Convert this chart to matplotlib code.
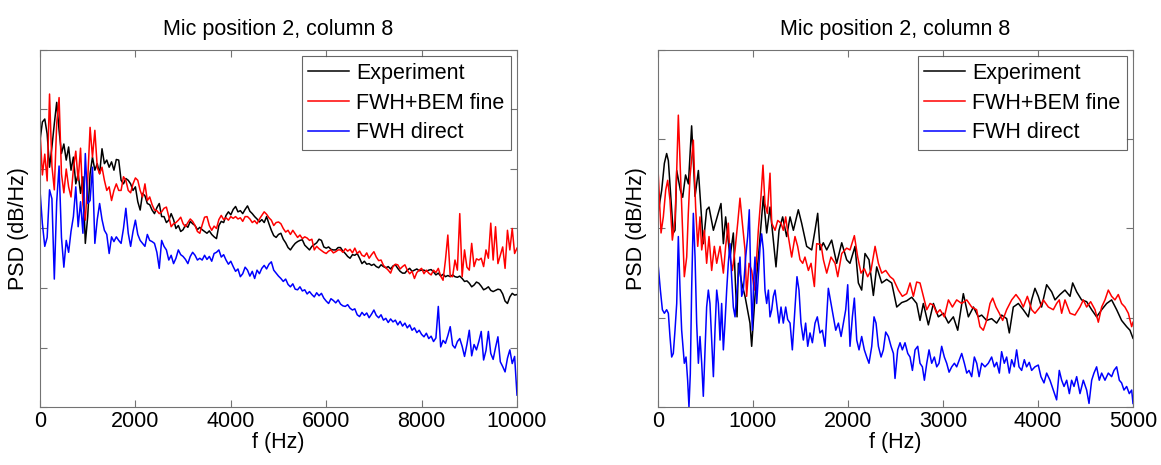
import numpy as np
import matplotlib
matplotlib.use('Agg')
import matplotlib.pyplot as plt

plt.rcParams['font.family'] = ['Liberation Sans', 'DejaVu Sans']

# ---- left panel: 0-10 kHz, 50 Hz bins ----
f_left = np.arange(0, 10001, 50)

exp_left = [
    54.8, 57.9, 58.4, 55.9, 50.3, 53.7, 57.6, 61.2, 56.5, 52.6, 54.2, 51.5, 53.7, 49.8, 52.0, 47.5, 49.2, 45.9, 48.7, 37.5,
    42.0, 49.2, 52.0, 49.8, 50.9, 49.2, 53.4, 50.9, 51.5, 50.3, 51.2, 49.8, 51.6, 51.5, 48.1, 47.5, 48.4, 48.1, 47.5, 46.4,
    47.0, 44.5, 43.1, 45.9, 45.5, 44.2, 44.0, 43.1, 42.5, 43.5, 44.2, 42.0, 42.0, 41.0, 41.4, 42.5, 41.5, 40.0, 40.5, 39.5,
    39.8, 40.6, 40.2, 41.2, 40.8, 40.5, 39.8, 40.2, 39.8, 39.5, 39.2, 39.6, 39.0, 38.6, 38.3, 40.5, 41.2, 41.0, 42.2, 42.8,
    42.3, 43.2, 43.7, 42.8, 43.0, 42.5, 43.2, 43.8, 42.9, 42.5, 42.0, 41.6, 41.1, 41.5, 41.0, 42.0, 40.8, 39.7, 38.8, 38.5,
    39.0, 39.2, 38.2, 37.6, 36.8, 36.4, 37.0, 37.5, 37.8, 38.0, 38.1, 37.2, 36.8, 36.4, 37.0, 37.3, 37.6, 38.2, 38.0, 36.9,
    36.7, 36.9, 36.5, 36.4, 36.4, 36.8, 36.8, 36.2, 35.8, 35.3, 35.0, 35.6, 35.5, 35.8, 35.0, 34.1, 34.5, 34.0, 34.1, 33.8,
    34.0, 33.6, 33.4, 33.9, 33.6, 33.4, 33.6, 33.2, 33.7, 33.9, 33.3, 32.8, 32.5, 32.5, 33.0, 33.3, 32.8, 33.0, 33.2, 32.9,
    33.0, 33.0, 32.8, 33.0, 33.1, 32.7, 32.2, 32.5, 32.0, 32.3, 31.9, 32.1, 31.9, 32.2, 31.9, 31.8, 32.0, 31.6, 31.1, 31.2,
    30.8, 30.2, 30.5, 31.0, 30.8, 30.3, 29.7, 29.9, 30.2, 29.6, 29.4, 29.6, 29.8, 29.7, 29.0, 27.8, 27.4, 28.5, 29.1, 28.8,
    28.9]

bem_left = [
    56.5, 49.0, 52.5, 48.0, 62.6, 50.5, 46.5, 57.6, 62.0, 49.2, 46.0, 50.0, 47.0, 45.3, 50.0, 53.0, 48.1, 53.5, 44.0, 41.4,
    48.1, 57.0, 52.0, 56.5, 50.3, 49.2, 50.3, 48.1, 46.4, 47.0, 44.7, 46.4, 47.5, 46.4, 46.4, 48.7, 48.1, 46.4, 46.0, 47.5,
    48.5, 48.1, 46.4, 45.3, 47.5, 44.7, 45.3, 44.0, 43.1, 43.0, 42.5, 42.8, 43.4, 43.6, 42.0, 40.3, 40.8, 41.0, 41.4, 41.9,
    40.8, 40.3, 41.0, 41.6, 41.2, 40.5, 39.5, 39.2, 40.6, 41.9, 42.0, 40.5, 39.7, 40.4, 40.0, 41.5, 42.2, 41.5, 41.8, 41.4,
    42.0, 41.7, 42.0, 41.6, 41.8, 41.2, 42.0, 42.0, 41.6, 41.0, 41.3, 40.8, 41.6, 42.2, 42.8, 42.4, 41.8, 41.4, 40.5, 41.0,
    41.1, 40.8, 40.0, 39.4, 39.7, 39.0, 39.7, 39.1, 38.5, 38.9, 38.3, 38.6, 38.4, 38.0, 38.2, 36.4, 37.0, 36.6, 36.3, 36.0,
    35.8, 36.2, 36.4, 35.9, 36.1, 36.4, 36.4, 36.0, 36.6, 36.2, 36.5, 35.9, 36.7, 35.8, 36.2, 35.5, 35.3, 35.9, 35.0, 35.6,
    36.1, 35.2, 34.6, 34.7, 33.8, 33.4, 33.0, 32.5, 33.6, 34.0, 33.9, 33.2, 33.6, 33.9, 33.0, 32.4, 32.8, 31.6, 32.6, 33.0,
    33.3, 32.4, 33.0, 32.5, 32.2, 33.0, 32.6, 33.3, 32.0, 31.3, 34.7, 38.9, 32.0, 31.9, 34.7, 33.0, 42.5, 31.9, 36.4, 33.5,
    33.0, 37.5, 33.6, 34.9, 34.7, 35.0, 33.6, 36.4, 35.0, 40.9, 34.7, 40.3, 34.1, 35.5, 36.9, 33.3, 39.7, 36.4, 40.0, 35.8,
    36.7]

direct_left = [
    46.4, 40.8, 37.0, 38.5, 46.5, 45.0, 31.5, 44.5, 50.5, 38.5, 33.5, 38.0, 36.0, 39.5, 42.0, 47.0, 40.3, 44.5, 39.2, 52.6,
    44.2, 44.7, 50.3, 37.5, 41.5, 44.2, 41.5, 39.7, 39.0, 35.8, 38.6, 37.8, 38.6, 38.0, 37.5, 40.0, 43.4, 39.2, 37.0, 39.5,
    41.4, 39.0, 38.0, 37.5, 37.0, 39.0, 38.0, 37.8, 37.5, 36.0, 33.3, 38.0, 37.0, 36.4, 34.7, 35.5, 34.1, 35.0, 36.4, 35.6,
    35.3, 34.8, 34.1, 35.3, 36.0, 35.5, 34.7, 35.0, 34.7, 35.5, 34.8, 35.3, 34.5, 35.8, 36.0, 36.4, 35.2, 35.6, 34.7, 34.0,
    34.5, 33.6, 32.8, 33.2, 31.9, 32.4, 33.5, 33.0, 32.0, 32.8, 31.6, 33.0, 32.4, 33.3, 33.8, 33.2, 34.0, 34.4, 33.0, 32.5,
    32.0, 31.6, 31.1, 31.5, 30.6, 30.2, 30.7, 29.8, 29.7, 30.2, 29.5, 29.7, 29.0, 29.4, 28.9, 28.5, 29.2, 28.7, 29.1, 28.3,
    27.8, 27.4, 28.2, 27.9, 27.5, 28.0, 27.3, 27.0, 26.9, 27.2, 26.6, 26.3, 26.5, 25.5, 25.2, 25.9, 25.4, 25.8, 25.0, 25.6,
    26.3, 25.4, 25.0, 25.5, 24.6, 24.9, 24.2, 24.8, 24.3, 24.6, 23.8, 24.4, 23.6, 24.1, 23.3, 23.8, 22.9, 23.3, 22.5, 22.9,
    22.2, 21.8, 22.4, 21.5, 21.9, 21.0, 21.6, 26.9, 20.1, 21.2, 20.7, 22.0, 23.5, 20.4, 19.9, 21.0, 21.5, 20.2, 18.5, 20.5,
    22.9, 18.6, 20.5, 19.6, 21.0, 22.7, 17.9, 19.5, 22.7, 19.0, 18.0, 20.0, 21.8, 17.6, 16.8, 15.9, 18.2, 19.6, 17.3, 18.5,
    12.0]

# ---- right panel: 0-5 kHz ----
f_exp_r = [0, 39, 67, 91, 109, 137, 161, 179, 197, 235, 260, 290, 320, 354, 390, 425, 477, 512, 537, 583,
           663, 688, 712, 758, 793, 818, 832, 846, 881, 916, 968, 986, 1021, 1063, 1109, 1144, 1179, 1214, 1242, 1274,
           1312, 1354, 1390, 1425, 1477, 1512, 1565, 1618, 1653, 1681, 1706, 1740, 1776, 1828, 1881, 1934, 1986, 2021, 2074, 2109,
           2144, 2179, 2221, 2267, 2302, 2355, 2407, 2460, 2513, 2565, 2618, 2671, 2723, 2758, 2793, 2846, 2899, 2951, 3004, 3057,
           3109, 3155, 3214, 3267, 3320, 3372, 3407, 3459, 3512, 3565, 3617, 3670, 3698, 3740, 3793, 3845, 3898, 3933, 3968, 4003,
           4038, 4091, 4144, 4179, 4231, 4284, 4337, 4365, 4407, 4459, 4512, 4565, 4617, 4670, 4723, 4775, 4828, 4880, 4933, 4968,
           5000]
exp_right = [41.7, 44.3, 47.3, 48.4, 47.6, 43.2, 39.5, 39.8, 46.5, 44.3, 43.5, 46.0, 45.0, 51.5, 43.6, 46.5, 38.3, 42.1, 42.4, 39.8,
             42.8, 38.3, 41.3, 36.8, 39.5, 33.1, 30.1, 36.1, 33.9, 32.4, 29.4, 26.8, 32.4, 37.6, 43.6, 39.5, 42.4, 38.7, 35.7, 39.8,
             41.3, 39.1, 41.3, 39.8, 42.1, 40.6, 38.0, 37.6, 39.8, 41.7, 37.6, 38.4, 37.6, 38.7, 36.1, 38.4, 36.5, 36.1, 38.0, 33.9,
             33.1, 37.2, 36.5, 32.5, 35.7, 33.9, 34.3, 33.9, 31.2, 31.7, 31.9, 32.3, 31.6, 29.7, 31.6, 29.2, 31.6, 30.1, 30.5, 29.4,
             30.1, 28.6, 32.7, 30.1, 31.2, 30.1, 30.3, 29.7, 29.9, 29.4, 30.3, 29.9, 28.3, 31.2, 31.6, 30.9, 30.1, 32.0, 33.3, 32.4,
             31.2, 33.7, 32.9, 32.0, 32.6, 33.1, 32.4, 33.9, 32.9, 32.0, 31.8, 30.9, 30.1, 30.9, 31.6, 32.0, 30.9, 29.7, 29.0, 28.6,
             27.7]

f_bem_r = [0, 32, 56, 81, 102, 126, 151, 179, 197, 214, 235, 256, 277, 302, 319, 337, 372, 396, 418, 442,
           460, 488, 512, 537, 565, 593, 618, 653, 688, 712, 740, 758, 783, 811, 839, 863, 888, 916, 933, 958,
           986, 1014, 1039, 1056, 1084, 1105, 1126, 1151, 1179, 1197, 1232, 1260, 1295, 1319, 1344, 1372, 1407, 1442, 1470, 1495,
           1523, 1547, 1583, 1611, 1646, 1670, 1716, 1741, 1776, 1821, 1864, 1892, 1934, 1986, 2021, 2067, 2102, 2137, 2172, 2207,
           2242, 2285, 2320, 2355, 2397, 2443, 2478, 2530, 2572, 2618, 2653, 2688, 2723, 2758, 2793, 2829, 2864, 2899, 2934, 2969,
           3014, 3057, 3099, 3144, 3197, 3250, 3302, 3354, 3389, 3424, 3459, 3495, 3523, 3558, 3593, 3628, 3670, 3723, 3768, 3810,
           3845, 3888, 3933, 3968, 4021, 4056, 4109, 4161, 4196, 4224, 4249, 4284, 4337, 4389, 4442, 4477, 4512, 4554, 4600, 4635,
           4670, 4705, 4740, 4775, 4810, 4845, 4880, 4915, 4951, 4986, 5000]
bem_right = [46.7, 39.5, 41.3, 44.3, 45.4, 43.2, 38.7, 40.9, 46.5, 52.7, 46.5, 40.6, 34.6, 36.8, 41.7, 45.8, 49.9, 42.4, 38.0, 41.3,
             37.6, 39.8, 36.1, 39.1, 35.3, 38.0, 36.1, 38.0, 35.0, 38.0, 40.6, 36.8, 35.3, 37.6, 40.6, 43.4, 40.6, 37.6, 32.4, 36.1,
             35.3, 33.1, 36.8, 39.8, 43.6, 47.1, 42.8, 41.7, 46.2, 40.6, 39.8, 40.9, 40.6, 39.8, 41.3, 39.1, 36.8, 39.1, 38.0, 36.5,
             36.1, 36.8, 35.3, 36.1, 33.5, 38.3, 38.2, 36.5, 35.0, 36.8, 36.1, 34.6, 37.2, 37.8, 37.6, 39.2, 36.8, 35.0, 35.5, 34.6,
             35.3, 38.0, 36.1, 35.0, 35.3, 34.6, 34.3, 33.1, 32.4, 32.7, 33.9, 32.4, 34.0, 33.9, 32.4, 30.9, 31.6, 31.4, 30.5, 30.9,
             30.1, 32.0, 31.2, 32.0, 31.6, 32.0, 31.2, 30.9, 29.0, 28.6, 29.7, 31.6, 32.2, 31.2, 30.5, 29.7, 30.9, 32.0, 32.6, 32.0,
             31.2, 32.4, 30.9, 30.5, 31.2, 32.0, 31.2, 30.9, 31.6, 32.0, 30.5, 32.0, 30.5, 30.3, 31.2, 32.0, 31.2, 31.8, 30.9, 29.5,
             31.2, 32.0, 33.1, 32.4, 32.0, 32.6, 31.6, 31.2, 30.5, 29.0, 29.5]

f_dir_r = [0, 25, 46, 67, 91, 109, 126, 144, 161, 179, 197, 214, 232, 249, 277, 295, 312, 326, 340, 354,
           372, 390, 407, 425, 442, 460, 477, 495, 512, 530, 547, 565, 583, 600, 618, 635, 653, 670, 688, 705,
           723, 740, 758, 775, 793, 811, 828, 846, 863, 881, 898, 923, 944, 961, 979, 993, 1007, 1021, 1039, 1056,
           1074, 1091, 1109, 1126, 1144, 1162, 1179, 1197, 1214, 1232, 1249, 1274, 1295, 1319, 1344, 1365, 1390, 1414, 1442, 1463,
           1484, 1505, 1530, 1554, 1576, 1600, 1625, 1653, 1677, 1705, 1730, 1758, 1793, 1821, 1846, 1871, 1899, 1927, 1951, 1976,
           1997, 2021, 2046, 2067, 2092, 2116, 2144, 2172, 2197, 2221, 2250, 2274, 2295, 2320, 2348, 2372, 2397, 2425, 2453, 2478,
           2495, 2523, 2548, 2572, 2600, 2629, 2653, 2678, 2706, 2734, 2758, 2783, 2804, 2829, 2853, 2881, 2909, 2934, 2958, 2986,
           3014, 3039, 3064, 3092, 3120, 3144, 3169, 3197, 3225, 3250, 3274, 3302, 3330, 3355, 3380, 3407, 3442, 3477, 3512, 3540,
           3565, 3593, 3617, 3645, 3670, 3698, 3723, 3750, 3775, 3800, 3828, 3856, 3880, 3908, 3933, 3968, 4003, 4031, 4063, 4091,
           4126, 4161, 4196, 4224, 4249, 4274, 4302, 4330, 4354, 4379, 4407, 4442, 4477, 4512, 4537, 4565, 4589, 4617, 4645, 4670,
           4705, 4740, 4775, 4800, 4828, 4856, 4880, 4905, 4933, 4961, 4986, 5000]
direct_right = [36.1, 33.1, 30.9, 30.5, 30.9, 30.5, 27.9, 25.6, 26.0, 28.6, 31.6, 39.1, 33.1, 28.6, 24.9, 25.6, 23.0, 20.0, 23.7, 33.1,
                41.7, 36.8, 29.4, 24.9, 27.9, 24.9, 21.2, 26.4, 31.2, 33.1, 31.6, 27.5, 23.4, 28.6, 33.1, 31.6, 27.5, 31.6, 26.4, 29.4,
                33.1, 36.1, 38.3, 34.6, 31.2, 30.1, 32.7, 34.6, 36.8, 32.4, 33.1, 36.8, 39.1, 42.1, 33.1, 28.6, 34.2, 36.8, 31.6, 34.6,
                37.9, 39.4, 37.6, 33.1, 31.6, 33.1, 30.1, 30.9, 32.4, 33.1, 31.6, 29.4, 31.2, 29.4, 31.2, 29.8, 29.4, 26.4, 31.2, 34.6,
                33.1, 29.4, 27.5, 29.4, 26.8, 28.3, 27.2, 29.4, 30.1, 28.3, 28.6, 26.8, 33.3, 31.6, 30.1, 28.6, 29.4, 27.9, 29.4, 30.9,
                33.7, 26.8, 30.1, 32.2, 27.5, 26.4, 27.9, 26.4, 25.6, 24.9, 26.8, 30.1, 29.4, 26.8, 25.6, 26.4, 28.4, 27.9, 26.8, 26.0,
                23.2, 26.4, 27.2, 26.4, 27.2, 26.0, 25.6, 24.1, 26.4, 26.8, 24.9, 24.5, 23.0, 24.9, 26.4, 24.9, 25.6, 24.5, 24.9, 26.8,
                25.6, 24.9, 23.9, 24.5, 24.9, 24.5, 25.2, 26.0, 24.9, 23.8, 24.1, 23.4, 25.6, 24.9, 23.4, 24.9, 24.5, 24.9, 25.6, 24.5,
                25.0, 23.8, 26.2, 24.9, 25.6, 23.8, 25.3, 24.5, 26.4, 24.5, 24.1, 25.3, 24.5, 25.0, 24.1, 24.5, 24.7, 23.4, 22.7, 23.8,
                23.0, 21.9, 20.8, 24.1, 23.0, 22.3, 23.0, 21.5, 23.0, 22.3, 23.4, 21.5, 23.0, 21.9, 20.4, 23.0, 23.8, 24.5, 23.0, 23.8,
                23.0, 23.8, 23.4, 24.1, 24.5, 23.0, 22.7, 21.9, 22.3, 21.5, 21.9, 20.4]

labels = ['Experiment', 'FWH+BEM fine', 'FWH direct']
title = 'Mic position 2, column 8'
fs = 15.5

fig = plt.figure(figsize=(11.61, 4.65), dpi=100)
ax1 = fig.add_axes([40 / 1161, 58 / 465, 477 / 1161, 357 / 465])
ax2 = fig.add_axes([658 / 1161, 58 / 465, 475 / 1161, 357 / 465])

ax1.plot(f_left, exp_left, color='k', lw=1.1, label=labels[0])
ax1.plot(f_left, bem_left, color='r', lw=1.1, label=labels[1])
ax1.plot(f_left, direct_left, color='b', lw=1.1, label=labels[2])
ax1.set_xlim(0, 10000)
ax1.set_ylim(10, 70)
ax1.set_xticks([0, 2000, 4000, 6000, 8000, 10000])
ax1.set_yticks([10, 20, 30, 40, 50, 60, 70])

ax2.plot(f_exp_r, exp_right, color='k', lw=1.1, label=labels[0])
ax2.plot(f_bem_r, bem_right, color='r', lw=1.1, label=labels[1])
ax2.plot(f_dir_r, direct_right, color='b', lw=1.1, label=labels[2])
ax2.set_xlim(0, 5000)
ax2.set_ylim(20, 60)
ax2.set_xticks([0, 1000, 2000, 3000, 4000, 5000])
ax2.set_yticks([20, 30, 40, 50, 60])

for ax in (ax1, ax2):
    ax.set_yticklabels([])
    ax.tick_params(direction='in', top=True, right=True, length=5, width=0.8,
                   color='0.45', labelsize=fs, pad=3)
    for s in ax.spines.values():
        s.set_color('0.45')
        s.set_linewidth(0.8)
    ax.set_title(title, fontsize=fs, pad=11)
    ax.set_xlabel('f (Hz)', fontsize=fs, labelpad=0)
    ax.set_ylabel('PSD (dB/Hz)', fontsize=fs, labelpad=5)
    leg = ax.legend(loc='upper right', fontsize=fs, handlelength=1.9,
                    handletextpad=0.3, labelspacing=0.4, borderpad=0.3,
                    borderaxespad=0.3, fancybox=False)
    leg.get_frame().set_edgecolor('0.25')
    leg.get_frame().set_linewidth(0.8)

fig.savefig('out.png', dpi=100)
